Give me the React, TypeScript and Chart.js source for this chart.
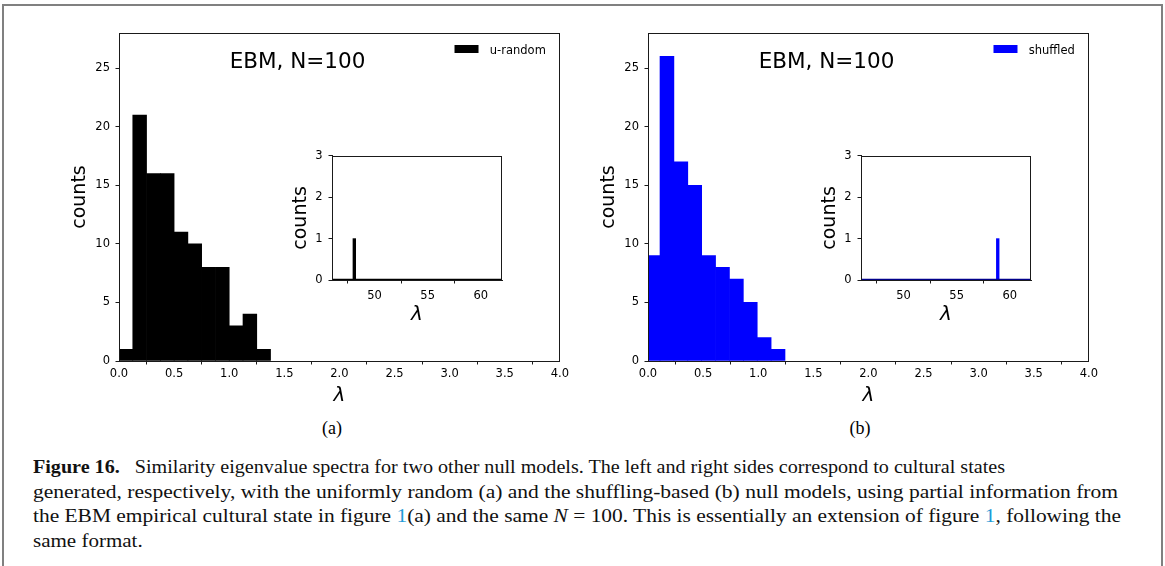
import React, { useEffect, useLayoutEffect, useRef } from "react";
import { Chart, registerables } from "chart.js";

Chart.register(...registerables);

// ---------- data ----------
const panelTitle = "EBM, N=100";
const labelA = "u-random";
const labelB = "shuffled";

const binStartA = 0;
const binWidthA = 0.125;
const countsA = [1, 21, 16, 16, 11, 10, 8, 8, 3, 4, 1];

const binStartB = -0.017;
const binWidthB = 0.126;
const countsB = [9, 26, 17, 15, 9, 8, 7, 5, 2, 1];

const outlierA = 48.1;
const outlierB = 58.87;
const outlierCount = 1;

const mainXRange = [0, 4];
const mainYMax = 28;
const mainXTicks = [0, 0.5, 1.0, 1.5, 2.0, 2.5, 3.0, 3.5, 4.0];
const mainYTicks = [0, 5, 10, 15, 20, 25];

const insetXRange = [46, 62];
const insetYMax = 3;
const insetXTicks = [50, 55, 60];
const insetYTicks = [0, 1, 2, 3];

const xTitle = "λ";
const yTitle = "counts";

// ---------- helpers ----------
const FONT = "'DejaVu Sans', sans-serif";
const AXIS_COLOR = "#1a1a1a";

const framePlugin = {
  id: "frameBox",
  afterDraw(chart: any) {
    const { ctx, chartArea: a } = chart;
    ctx.save();
    ctx.strokeStyle = AXIS_COLOR;
    ctx.lineWidth = 1;
    ctx.strokeRect(Math.round(a.left) + 0.5, Math.round(a.top) + 0.5, Math.round(a.right - a.left) - 1, Math.round(a.bottom - a.top));
    ctx.restore();
  },
};

const annotPlugin = {
  id: "annot",
  afterDraw(chart: any) {
    const o = chart.options.plugins.annot;
    if (!o) return;
    const { ctx, chartArea: a } = chart;
    ctx.save();
    // panel title
    ctx.font = `21.5px ${FONT}`;
    ctx.fillStyle = "#000";
    ctx.textAlign = "center";
    ctx.textBaseline = "alphabetic";
    ctx.fillText(o.title, a.left + 0.405 * (a.right - a.left), a.top + 35.3);
    // legend
    ctx.font = `11.5px ${FONT}`;
    const tw = ctx.measureText(o.label).width;
    const textEnd = a.right - 14;
    const textStart = textEnd - tw;
    const boxRight = textStart - 11.3;
    ctx.fillStyle = o.color;
    ctx.fillRect(boxRight - 24, a.top + 12, 24, 8);
    ctx.fillStyle = "#000";
    ctx.textAlign = "left";
    ctx.fillText(o.label, textStart, a.top + 20.5);
    ctx.restore();
  },
};

function axisCommon(extra: any) {
  return {
    grid: { drawOnChartArea: false, drawTicks: true, tickLength: 3.5, color: AXIS_COLOR },
    border: { display: true, color: AXIS_COLOR, width: 1 },
    ...extra,
  };
}

function histData(start: number, width: number, counts: number[]) {
  return counts.map((c, i) => ({ x: start + (i + 0.5) * width, y: c }));
}

function MainHist(props: { left: number; top: number; start: number; width: number; counts: number[]; color: string; label: string }) {
  const ref = useRef<HTMLCanvasElement>(null);
  useEffect(() => {
    const chart = new Chart(ref.current!, {
      type: "bar",
      data: {
        datasets: [
          {
            label: props.label,
            data: histData(props.start, props.width, props.counts),
            backgroundColor: props.color,
            borderWidth: 0,
            barPercentage: 1,
            categoryPercentage: 1,
          },
        ],
      },
      options: {
        responsive: false,
        animation: false,
        layout: { padding: { left: 0, top: 13, right: 12, bottom: 0 } },
        plugins: {
          legend: { display: false },
          tooltip: { enabled: false },
          annot: { title: panelTitle, label: props.label, color: props.color },
        } as any,
        scales: {
          x: axisCommon({
            type: "linear",
            offset: false,
            min: mainXRange[0],
            max: mainXRange[1],
            afterBuildTicks: (s: any) => {
              s.ticks = mainXTicks.map((v) => ({ value: v }));
            },
            afterFit: (s: any) => {
              s.height = 49;
            },
            ticks: { font: { family: FONT, size: 11.5 }, color: "#000", padding: 3, maxRotation: 0, autoSkip: false, callback: (v: any) => Number(v).toFixed(1) },
            title: { display: true, text: xTitle, color: "#000", font: { family: FONT, size: 20, style: "italic" }, padding: { top: 0, bottom: 2.2 } },
          }),
          y: axisCommon({
            type: "linear",
            min: 0,
            max: mainYMax,
            afterBuildTicks: (s: any) => {
              s.ticks = mainYTicks.map((v) => ({ value: v }));
            },
            afterFit: (s: any) => {
              s.width = 59;
            },
            ticks: { font: { family: FONT, size: 11.5 }, color: "#000", padding: 5.5 },
            title: { display: true, text: yTitle, color: "#000", font: { family: FONT, size: 19 }, padding: { top: 9, bottom: 0 } },
          }),
        },
      },
      plugins: [framePlugin, annotPlugin],
    } as any);
    return () => chart.destroy();
  }, []);
  const w = 512;
  const h = 390;
  return <canvas ref={ref} width={w} height={h} style={{ position: "absolute", left: props.left, top: props.top, width: w, height: h }} />;
}

function InsetHist(props: { left: number; top: number; value: number; color: string; lineColor: string }) {
  const ref = useRef<HTMLCanvasElement>(null);
  useEffect(() => {
    const chart = new Chart(ref.current!, {
      type: "bar",
      data: {
        datasets: [
          {
            type: "line",
            data: [
              { x: insetXRange[0], y: 0 },
              { x: insetXRange[1], y: 0 },
            ],
            borderColor: props.lineColor,
            borderWidth: 2.4,
            pointRadius: 0,
            order: 0,
          },
          {
            type: "bar",
            data: [{ x: props.value, y: outlierCount }],
            backgroundColor: props.color,
            borderWidth: 0,
            barThickness: 2.7,
            order: 1,
          },
        ],
      },
      options: {
        responsive: false,
        animation: false,
        layout: { padding: { left: 0, top: 10, right: 12, bottom: 0 } },
        plugins: { legend: { display: false }, tooltip: { enabled: false } },
        scales: {
          x: axisCommon({
            type: "linear",
            offset: false,
            min: insetXRange[0],
            max: insetXRange[1],
            afterBuildTicks: (s: any) => {
              s.ticks = insetXTicks.map((v) => ({ value: v }));
            },
            afterFit: (s: any) => {
              s.height = 55;
            },
            ticks: { font: { family: FONT, size: 11.5 }, color: "#000", padding: 6, maxRotation: 0, autoSkip: false },
            title: { display: true, text: xTitle, color: "#000", font: { family: FONT, size: 20, style: "italic" }, padding: { top: 0, bottom: 8 } },
          }),
          y: axisCommon({
            type: "linear",
            min: 0,
            max: insetYMax,
            afterBuildTicks: (s: any) => {
              s.ticks = insetYTicks.map((v) => ({ value: v }));
            },
            afterFit: (s: any) => {
              s.width = 50;
            },
            ticks: { font: { family: FONT, size: 11.5 }, color: "#000", padding: 6 },
            title: { display: true, text: yTitle, color: "#000", font: { family: FONT, size: 19 }, padding: { top: 7.3, bottom: 0 } },
          }),
        },
      },
      plugins: [framePlugin],
    } as any);
    return () => chart.destroy();
  }, []);
  const w = 232;
  const h = 192;
  return <canvas ref={ref} width={w} height={h} style={{ position: "absolute", left: props.left, top: props.top, width: w, height: h }} />;
}

const link = { color: "#1f9bd7" };

// target right edges (px) of the caption lines in the reference
const captionLineEnds = [1005, 1118, 1121, 0];
const CAPTION_LEFT = 33;

function Caption() {
  const refs = [useRef<HTMLSpanElement>(null), useRef<HTMLSpanElement>(null), useRef<HTMLSpanElement>(null), useRef<HTMLSpanElement>(null)];
  useLayoutEffect(() => {
    const scales: number[] = [];
    refs.forEach((r, i) => {
      const el = r.current;
      if (!el) return;
      const natural = el.getBoundingClientRect().width;
      const end = captionLineEnds[i];
      if (end > 0 && natural > 0) {
        const s = (end - CAPTION_LEFT) / natural;
        scales.push(s);
        el.style.transform = `scaleX(${s})`;
      }
    });
    const avg = scales.reduce((a, b) => a + b, 0) / Math.max(1, scales.length);
    const last = refs[3].current;
    if (last) last.style.transform = `scaleX(${avg})`;
  }, []);
  const lineStyle: React.CSSProperties = { display: "inline-block", transformOrigin: "0 0" };
  return (
    <div style={{ position: "absolute", left: CAPTION_LEFT, top: 455, fontFamily: "'Liberation Serif', serif", fontSize: 19, lineHeight: "24.5px", whiteSpace: "nowrap", color: "#111" }}>
      <div>
        <span ref={refs[0]} style={lineStyle}>
          <b>Figure 16.</b>&nbsp;&nbsp; Similarity eigenvalue spectra for two other null models. The left and right sides correspond to cultural states
        </span>
      </div>
      <div>
        <span ref={refs[1]} style={lineStyle}>
          generated, respectively, with the uniformly random (a) and the shuffling-based (b) null models, using partial information from
        </span>
      </div>
      <div>
        <span ref={refs[2]} style={lineStyle}>
          the EBM empirical cultural state in figure <span style={link}>1</span>(a) and the same <i>N</i> = 100. This is essentially an extension of figure <span style={link}>1</span>, following the
        </span>
      </div>
      <div>
        <span ref={refs[3]} style={lineStyle}>
          same format.
        </span>
      </div>
    </div>
  );
}

export default function App() {
  return (
    <div style={{ position: "absolute", left: 0, top: 0, width: 1165, height: 566, background: "#fff", overflow: "hidden" }}>
      <div style={{ position: "absolute", left: 2, top: 4, width: 1161, height: 700, border: "2px solid #808080", boxSizing: "border-box" }} />
      <MainHist left={60} top={20} start={binStartA} width={binWidthA} counts={countsA} color="#000000" label={labelA} />
      <MainHist left={589} top={20} start={binStartB} width={binWidthB} counts={countsB} color="#0000ff" label={labelB} />
      <InsetHist left={282} top={143} value={outlierA} color="#000000" lineColor="#000000" />
      <InsetHist left={811} top={143} value={outlierB} color="#0000ff" lineColor="#00008b" />
      <div style={{ position: "absolute", left: 292, top: 418, width: 80, textAlign: "center", fontFamily: "'Liberation Serif', serif", fontSize: 18 }}>(a)</div>
      <div style={{ position: "absolute", left: 820, top: 418, width: 80, textAlign: "center", fontFamily: "'Liberation Serif', serif", fontSize: 18 }}>(b)</div>
      <Caption />
    </div>
  );
}
